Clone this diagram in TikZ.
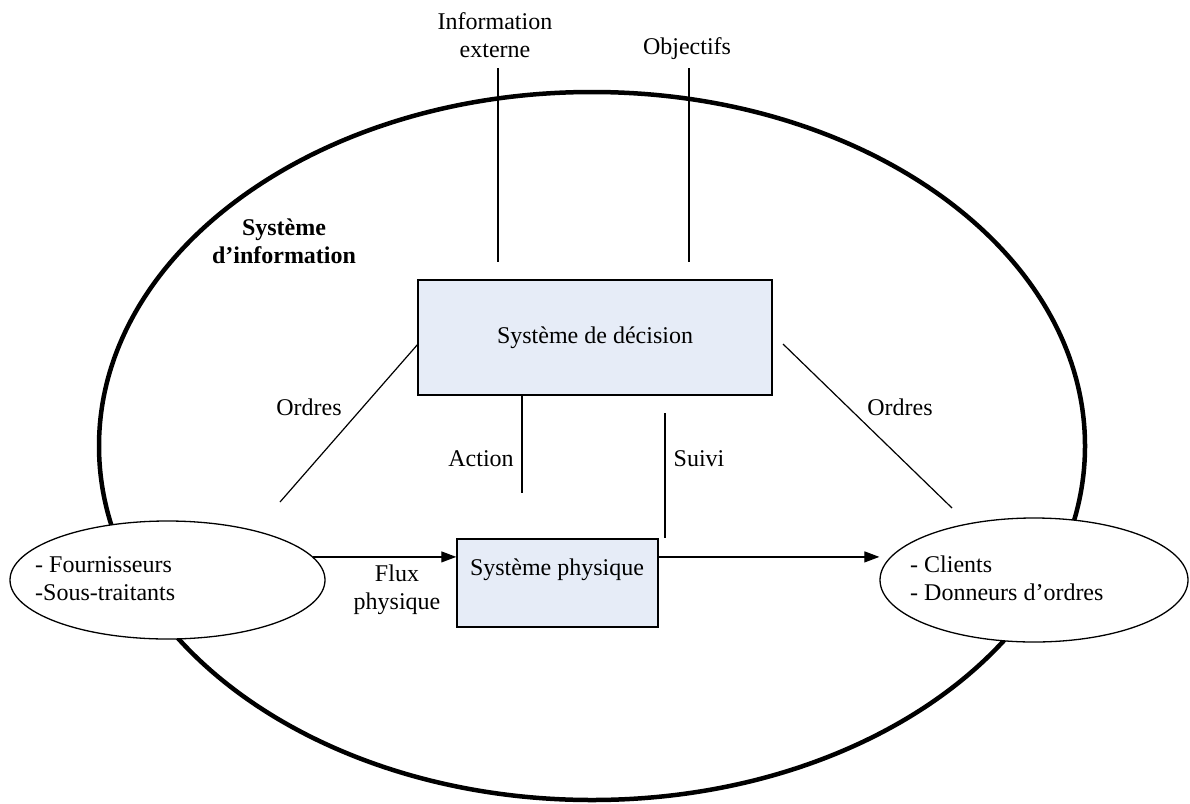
\documentclass[tikz,border=0pt]{standalone}
\usepackage{fontspec}
\setmainfont{Liberation Serif}
\usetikzlibrary{shapes.geometric,arrows.meta}
\definecolor{boxfill}{RGB}{230,236,247}
\begin{document}
\begin{tikzpicture}[x=1pt,y=-1pt,
  every node/.style={font=\fontsize{24}{28}\selectfont, inner sep=0pt},
  thinline/.style={line width=1.2pt},
  sysbox/.style={draw, line width=1.5pt, fill=boxfill, rectangle},
  smell/.style={draw, ellipse, line width=1.3pt, fill=white},
  flow/.style={thinline, -{Triangle[length=15pt,width=11pt]}},
  lbl/.style={align=center}
]
\useasboundingbox (0,0) rectangle (1190,803);
% big ellipse
\node[draw, ellipse, line width=4.5pt, minimum width=986pt, minimum height=708pt] (sysinfo) at (592,446) {};
\node[lbl, font=\fontsize{24}{28}\selectfont\bfseries] (sitxt) at (284,241) {Système\\d'information};
% external inputs
\node[lbl] (infoext) at (495,35) {Information\\externe};
\node[lbl] (obj) at (687,49) {Objectifs};
\coordinate (ie1) at (498,68); \coordinate (ie2) at (498,262);
\coordinate (ob1) at (689,68); \coordinate (ob2) at (689,262);
\draw[thinline] (ie1) -- (ie2);
\draw[thinline] (ob1) -- (ob2);
% boxes
\node[sysbox, minimum width=354pt, minimum height=115pt] (dec) at (595,337.5) {Système de décision};
\node[sysbox, minimum width=201pt, minimum height=88pt] (phys) at (557.5,583) {};
\node (phystxt) at (557,570) {Système physique};
% small ellipses
\node[smell, minimum width=315pt, minimum height=118pt] (lell) at (167.5,580) {};
\node[align=left, anchor=west] (ltxt) at (35,579) {- Fournisseurs\\-Sous-traitants};
\node[smell, minimum width=308pt, minimum height=124pt] (rell) at (1034,580) {};
\node[align=left, anchor=west] (rtxt) at (910,578) {- Clients\\- Donneurs d'ordres};
% flows
\draw[flow] (lell.9) -- (lell.9 -| phys.west);
\draw[flow] (phys.east |- lell.9) -- (rell.west |- lell.9);
\node[lbl] (flux) at (397,590) {Flux\\physique};
% action / suivi
\coordinate (act) at (522,493);
\draw[thinline] (act |- dec.south) -- (act);
\node (acttxt) at (481,459) {Action};
\coordinate (suv) at (665,413);
\draw[thinline] (suv) -- (suv |- phys.north);
\node (suvtxt) at (699,459) {Suivi};
% ordres
\coordinate (ol1) at (418,344); \coordinate (ol2) at (280,502);
\draw[thinline] (ol1) -- (ol2);
\node (oltxt) at (309,407) {Ordres};
\coordinate (or1) at (783,344); \coordinate (or2) at (952,508);
\draw[thinline] (or1) -- (or2);
\node (ortxt) at (900,407) {Ordres};
\end{tikzpicture}
\end{document}
